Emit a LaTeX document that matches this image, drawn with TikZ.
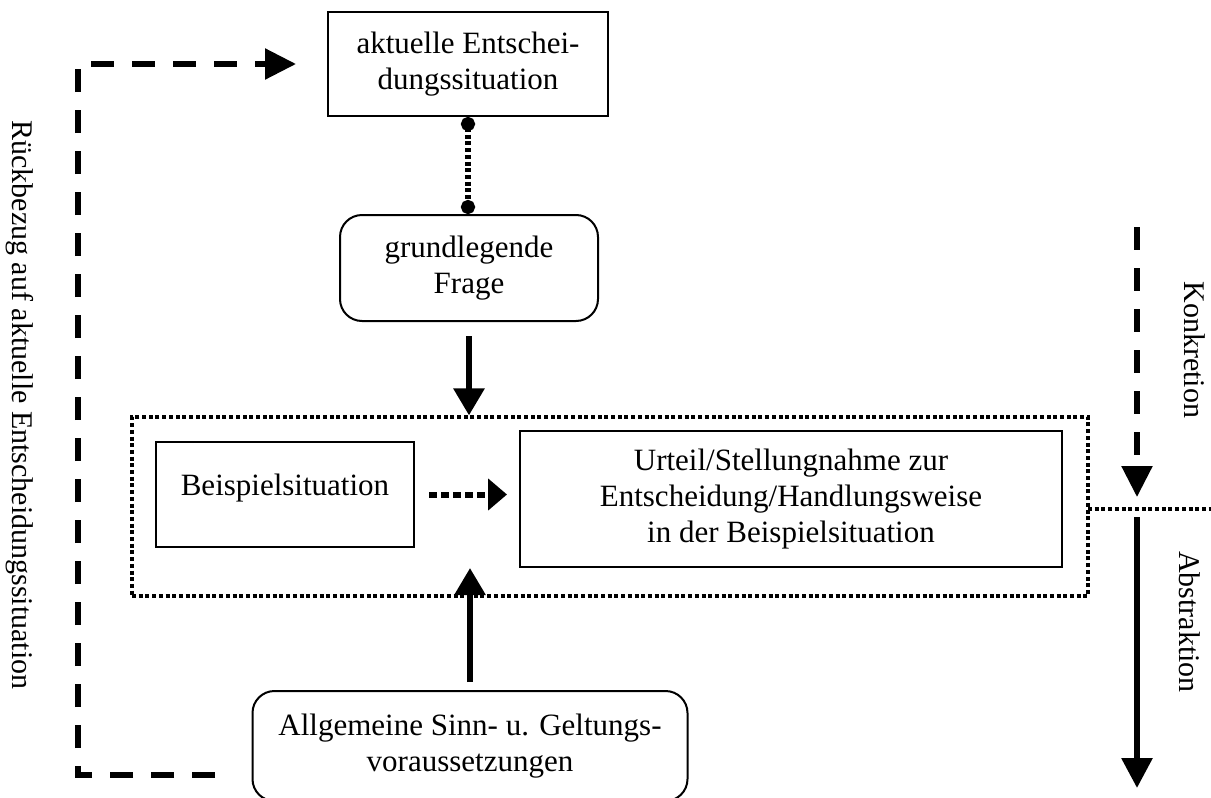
\documentclass[tikz,border=0pt]{standalone}
\usepackage{fontspec}
\setmainfont{Liberation Serif}
\usetikzlibrary{arrows.meta}
\begin{document}
\begin{tikzpicture}[x=1pt,y=-1pt,
  every node/.style={font=\fontsize{30}{36}\selectfont},
  box/.style={draw, line width=2pt, align=center, inner sep=0pt, font=\fontsize{31}{36}\selectfont},
  rbox/.style={box, rounded corners=22pt},
  framebox/.style={draw, line width=3.2pt, dash pattern=on 4pt off 2.7pt, inner sep=0pt},
  solidarr/.style={line width=6pt, -{Triangle[length=27pt,width=30pt]}},
  dasharr/.style={line width=5.5pt, dash pattern=on 23pt off 18pt, -{Triangle[length=31pt,width=30pt]}},
  dotarr/.style={line width=6pt, dash pattern=on 8pt off 4pt, -{Triangle[length=19pt,width=31pt]}},
  dotline/.style={line width=6pt, dash pattern=on 4pt off 2.7pt, {Circle[length=14pt]}-{Circle[length=14pt]}},
  hdot/.style={line width=3.2pt, dash pattern=on 4pt off 2.7pt}
]
\useasboundingbox (0,0) rectangle (1211,798);
\clip (0,0) rectangle (1211,798);

% boxes
\node[box, minimum width=280pt, minimum height=104pt] (top) at (468,64) {aktuelle Entschei-\\dungssituation};
\node[rbox, minimum width=258pt, minimum height=106pt] (frage) at (469,268) {grundlegende\\Frage};
\node[framebox, minimum width=956pt, minimum height=179pt] (frame) at (610,506.5) {};
\node[box, minimum width=258pt, minimum height=105pt] (beisp) at (285,494.5) {\raisebox{6pt}[\height][\depth]{Beispielsituation}};
\node[box, minimum width=542pt, minimum height=136pt] (urteil) at (791,499) {Urteil/Stellungnahme zur\\Entscheidung/Handlungsweise\\in der Beispielsituation};
\node[rbox, minimum width=435pt, minimum height=110pt] (allg) at (470,746) {Allgemeine Sinn- u. Geltungs-\\voraussetzungen};

% rotated labels
\node[rotate=-90] (rueck) at (20,405) {Rückbezug auf aktuelle Entscheidungssituation};
\node[rotate=-90] (konk) at (1195,350) {Konkretion};
\node[rotate=-90] (abst) at (1190,622) {Abstraktion};

% connectors
\draw[dotline] (top.south) -- (top.south |- frage.north);
\draw[solidarr] ([yshift=-14pt]frage.south) -- (frage.south |- frame.north);
\draw[solidarr] ([yshift=8pt]allg.north) -- (allg.north |- urteil.south);
\draw[dotarr] ([xshift=14pt]beisp.east) -- ([xshift=-12pt]urteil.west |- beisp.east);

\coordinate (ls) at (215,775);
\coordinate (lc) at (78,64);
\draw[dasharr] (ls) -| (lc) -- ([xshift=-31pt]top.west);

\coordinate (k1) at (1137,227);
\coordinate (k2) at (1137,497);
\draw[dasharr] (k1) -- (k2);
\coordinate (a1) at (1137,517);
\coordinate (a2) at (1137,788);
\draw[solidarr, -{Triangle[length=30pt,width=30pt]}] (a1) -- (a2);

\coordinate (h1) at (1088,509);
\coordinate (h2) at (1211,509);
\draw[hdot] (h1) -- (h2);
\end{tikzpicture}
\end{document}
